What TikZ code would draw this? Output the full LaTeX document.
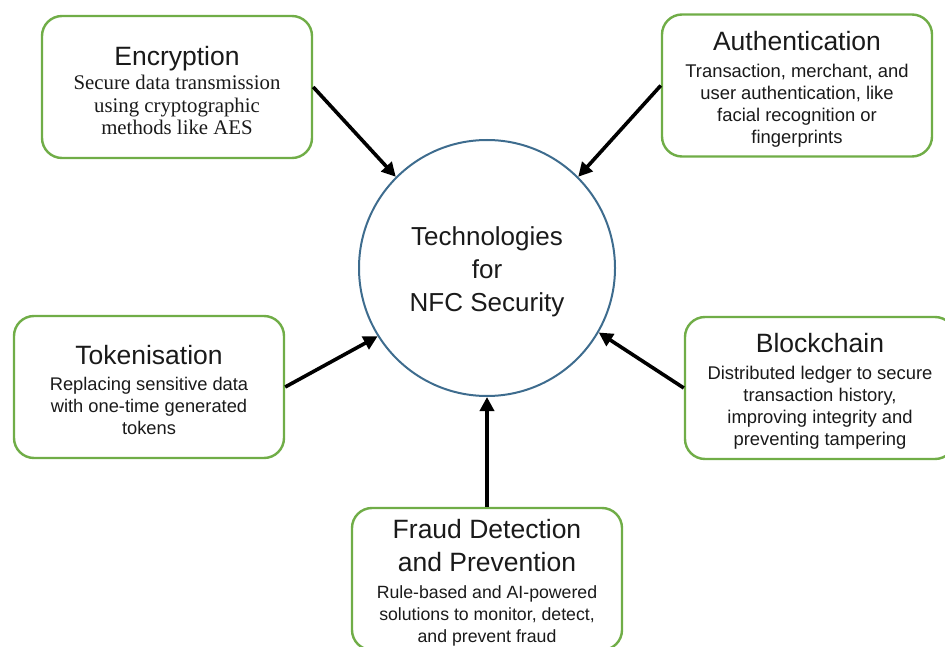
\documentclass[tikz,border=0pt]{standalone}
\usepackage{fontspec}
\usepackage{tikz}
\usetikzlibrary{positioning,arrows.meta,shapes}
\newfontfamily\sanslib{Liberation Sans}
\newfontfamily\seriflib{Liberation Serif}
\newcommand{\boxtitle}{\sanslib\fontsize{26.5}{33}\selectfont\rule{0pt}{26pt}}
\newcommand{\boxbody}[1]{\sanslib\fontsize{#1}{22}\selectfont}
\newcommand{\boxserif}{\seriflib\fontsize{20.8}{22.5}\selectfont}
\definecolor{boxgreen}{RGB}{112,173,71}
\definecolor{hubblue}{RGB}{62,108,142}
\definecolor{inktext}{RGB}{26,26,26}

\begin{document}
\begin{tikzpicture}[x=1pt,y=-1pt,
  techbox/.style={rectangle,draw=boxgreen,line width=2.4pt,rounded corners=20pt,fill=white,
    minimum width=270pt,minimum height=142pt,inner sep=0pt,align=center,text=inktext,font=\boxbody{#1}},
  techbox/.default=18.3,
  hub/.style={circle,draw=hubblue,line width=2pt,minimum size=256pt,inner sep=0pt,align=center,
    text=inktext,font=\sanslib\fontsize{26}{33}\selectfont},
  feed/.style={-{Triangle[length=14pt,width=14pt]},line width=3.6pt,black},
]
\useasboundingbox (0,0) rectangle (945,647);

% === CENTER: hub ===
\node[hub] (hub) at (487,268) {\rule{0pt}{27pt}Technologies\\for\\NFC Security};

% === Surrounding technologies ===
\node[techbox,font=\boxserif] (encrypt) at (177,87) {
{\boxtitle Encryption}\\[2pt]
Secure data transmission\\
using cryptographic\\
methods like AES
};

\node[techbox=18.4] (auth) at (797,85.5) {
{\boxtitle Authentication}\\[5pt]
Transaction, merchant, and\\
user authentication, like\\
facial recognition or\\
fingerprints
};

\node[techbox=18.3] (token) at (149,387) {
{\boxtitle Tokenisation}\\[4pt]
Replacing sensitive data\\
with one-time generated\\
tokens
};

\node[techbox=18.4] (chain) at (820,388) {
{\boxtitle Blockchain}\\[5pt]
Distributed ledger to secure\\
transaction history,\\
improving integrity and\\
preventing tampering
};

\node[techbox=17.7] (fraud) at (487,579) {
{\boxtitle Fraud Detection}\\[11pt]
{\sanslib\fontsize{26.5}{33}\selectfont and Prevention}\\[5pt]
Rule-based and AI-powered\\
solutions to monitor, detect,\\
and prevent fraud
};

% === Arrows into the hub ===
\draw[feed] (encrypt.east) -- (hub.135);
\draw[feed] (auth.west) -- (hub.45);
\draw[feed] (token.east) -- (hub.212);
\draw[feed] (chain.west) -- (hub.330);
\draw[feed] (fraud.north) -- (hub.south);

\end{tikzpicture}
\end{document}
